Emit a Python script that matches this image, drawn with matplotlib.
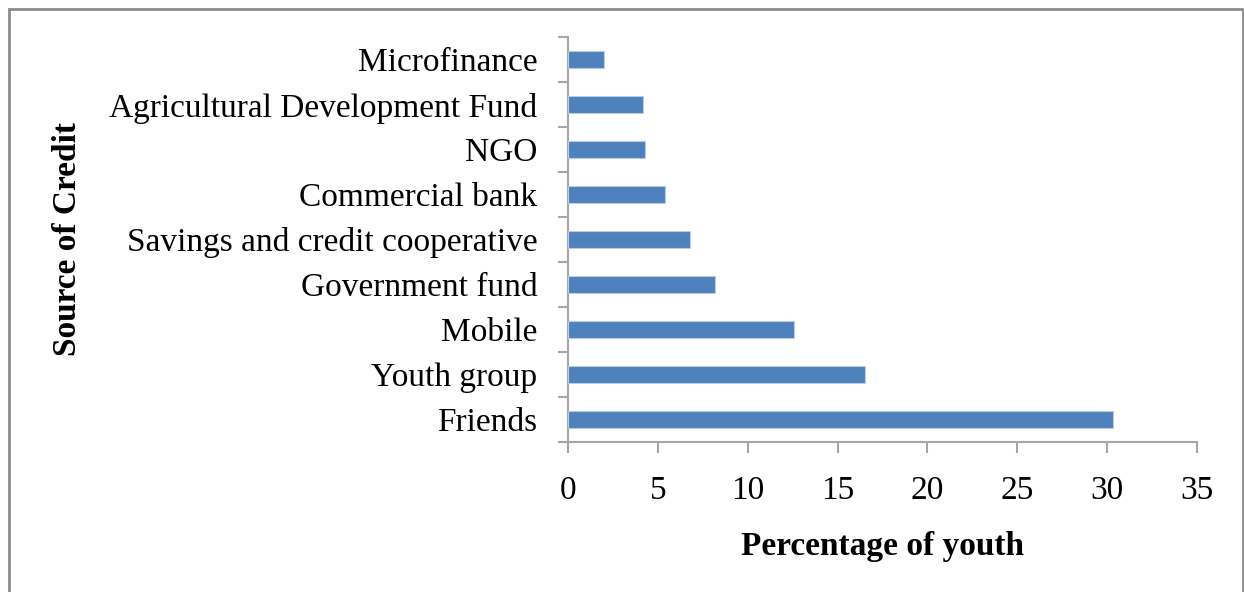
import matplotlib
matplotlib.use("Agg")
import matplotlib.pyplot as plt
from matplotlib.patches import Rectangle
import numpy as np

# Sources of credit (bottom to top) and share of youth using each
sources = ["Friends", "Youth group", "Mobile", "Government fund",
           "Savings and credit cooperative", "Commercial bank", "NGO",
           "Agricultural Development Fund", "Microfinance"]
percent = [30.3, 16.5, 12.6, 8.2, 6.8, 5.4, 4.3, 4.2, 2.0]
x_ticks = [0, 5, 10, 15, 20, 25, 30, 35]

plt.rcParams["font.family"] = ["Liberation Serif", "DejaVu Serif"]

W, H = 1244, 592
fig = plt.figure(figsize=(W / 100, H / 100), dpi=100)
ax = fig.add_axes([568 / W, 1 - 442 / H, (1197 - 568) / W, (442 - 37) / H])

y = np.arange(len(sources))
ax.barh(y, percent, height=0.37, color="#4F81BD", edgecolor="#B9CDE5",
        linewidth=0.8, zorder=3)

ax.set_xlim(0, 35)
ax.set_ylim(-0.5, len(sources) - 0.5)
ax.set_xticks(x_ticks)
ax.set_xticklabels([str(t) for t in x_ticks])
ax.set_yticks(y)
ax.set_yticklabels(sources)
ax.set_yticks(np.arange(-0.5, len(sources), 1.0), minor=True)

axis_grey = "#A6A6A6"
for side in ("top", "right"):
    ax.spines[side].set_visible(False)
for side in ("left", "bottom"):
    ax.spines[side].set_color(axis_grey)
    ax.spines[side].set_linewidth(1.5)

ax.tick_params(axis="x", which="major", direction="out", length=8, width=1.5,
               color=axis_grey, labelsize=24, pad=16, labelcolor="black")
ax.tick_params(axis="y", which="major", length=0, labelsize=24, pad=22,
               labelcolor="black")
ax.tick_params(axis="y", which="minor", direction="out", length=7, width=1.5,
               color=axis_grey)

ax.set_xlabel("Percentage of youth", fontsize=24, fontweight="bold", labelpad=18)
ax.set_ylabel("Source of Credit", fontsize=24, fontweight="bold")
ax.yaxis.set_label_coords((83 - 568) / (1197 - 568), 0.5)

# Outer chart border
fig.patches.append(Rectangle((9 / W, -0.02), (1243 - 9) / W, 1 - 9 / H + 0.02,
                             transform=fig.transFigure, fill=False,
                             edgecolor="#8C8C8C", linewidth=2))

fig.savefig("out.png", dpi=100)
